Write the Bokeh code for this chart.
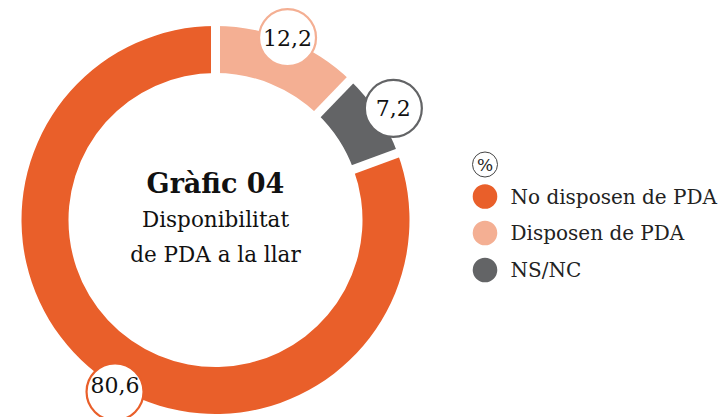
import math
from bokeh.plotting import figure
from bokeh.models import Range1d
from bokeh.core.properties import value
from bokeh.embed import file_html
from bokeh.resources import INLINE

# ---- data ----
categories = ["No disposen de PDA", "Disposen de PDA", "NS/NC"]
values = [80.6, 12.2, 7.2]
value_labels = ["80,6", "12,2", "7,2"]
colors = ["#E95F2A", "#F4AF93", "#636466"]
ring_order = [1, 2, 0]          # clockwise from 12 o'clock
title_lines = ["Gràfic 04", "Disponibilitat", "de PDA a la llar"]
unit_label = "%"

# ---- layout / style ----
W, H = 724, 417
FONT = "DejaVu Serif"
label_r = [199, 196, 210]
label_dang = [-4.6, -0.4, 1.0]
label_text_dy = [7, 0, 0]

def sx(x):
    return x

def sy(y):
    return H - y

p = figure(width=W, height=H, x_range=Range1d(0, W), y_range=Range1d(0, H),
           output_backend="svg", toolbar_location=None, min_border=0,
           background_fill_color="white", border_fill_color="white")
p.axis.visible = False
p.grid.visible = False
p.outline_line_color = None

cx, cy = sx(215), sy(219.5)
R_out, R_in = 194, 147
total = sum(values)

cum = 0.0
mids = {}
bounds = []
for i in ring_order:
    frac = values[i] / total
    t0 = cum * 2 * math.pi
    t1 = (cum + frac) * 2 * math.pi
    bounds.append(t0)
    mids[i] = (t0 + t1) / 2
    p.annular_wedge(x=[cx], y=[cy], inner_radius=R_in, outer_radius=R_out,
                    start_angle=[math.pi / 2 - t0], end_angle=[math.pi / 2 - t1],
                    direction="clock", fill_color=colors[i], line_color=None)
    cum += frac

# white gaps between segments
gx0, gy0, gx1, gy1 = [], [], [], []
for t in bounds:
    gx0.append(cx + (R_in - 4) * math.sin(t)); gy0.append(cy + (R_in - 4) * math.cos(t))
    gx1.append(cx + (R_out + 4) * math.sin(t)); gy1.append(cy + (R_out + 4) * math.cos(t))
p.segment(x0=gx0, y0=gy0, x1=gx1, y1=gy1, line_color="white", line_width=9)

# value labels in circles
for i in range(len(values)):
    t = mids[i] + math.radians(label_dang[i])
    lx = cx + label_r[i] * math.sin(t)
    ly = cy + label_r[i] * math.cos(t)
    p.circle(x=[lx], y=[ly], radius=28.5, fill_color="white",
             line_color=colors[i], line_width=2.2)
    p.text(x=[lx], y=[ly + label_text_dy[i]], text=[value_labels[i]],
           text_align="center", text_baseline="middle",
           text_font=value(FONT), text_font_size="22px", text_color="#111111")

# centre title
p.text(x=[cx], y=[sy(183)], text=[title_lines[0]], text_align="center",
       text_baseline="middle", text_font=value(FONT), text_font_style="bold",
       text_font_size="27px", text_color="#111111")
p.text(x=[cx, cx], y=[sy(219), sy(254)], text=title_lines[1:], text_align="center",
       text_baseline="middle", text_font=value(FONT), text_font_size="21.5px",
       text_color="#111111")

# legend
lx = sx(484.5)
p.circle(x=[lx], y=[sy(164)], radius=12.5, fill_color="white",
         line_color="#444444", line_width=1)
p.text(x=[lx], y=[sy(164)], text=[unit_label], text_align="center",
       text_baseline="middle", text_font=value(FONT), text_font_size="17px",
       text_color="#222222")
leg_y = [sy(196), sy(232.5), sy(269.5)]
p.circle(x=[lx] * 3, y=leg_y, radius=12.3, fill_color=colors, line_color=None)
p.text(x=[sx(510)] * 3, y=leg_y, text=categories, text_align="left",
       text_baseline="middle", text_font=value(FONT), text_font_size="20px",
       text_color="#222222")

open("out.html", "w").write(file_html(p, INLINE))
